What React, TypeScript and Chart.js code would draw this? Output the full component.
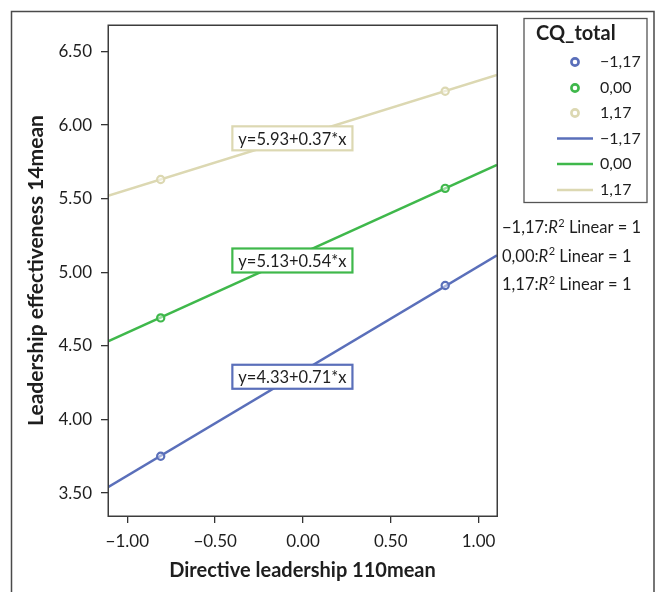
import React, { useEffect, useRef } from "react";
import { Chart, registerables } from "chart.js";
Chart.register(...registerables);

// ---- data ----
const groups = ["−1,17", "0,00", "1,17"];
const colors = ["#5a6fba", "#3fb84b", "#dcd8b2"];
const pointX = [-0.81, 0.81];
const bluePoints = [3.75, 4.91];
const greenPoints = [4.69, 5.57];
const beigePoints = [5.63, 6.23];
const lineX = [-1.11, 1.105];
const blueLine = [3.54, 5.115];
const greenLine = [4.53, 5.73];
const beigeLine = [5.52, 6.34];
const equations = ["y=4.33+0.71*x", "y=5.13+0.54*x", "y=5.93+0.37*x"];
const equationX = [-0.06, -0.06, -0.06];
const equationY = [4.29, 5.08, 5.91];
const xTicks = [-1, -0.5, 0, 0.5, 1];
const xTickLabels = ["−1.00", "−0.50", "0.00", "0.50", "1.00"];
const yTicks = [3.5, 4, 4.5, 5, 5.5, 6, 6.5];
const yTickLabels = ["3.50", "4.00", "4.50", "5.00", "5.50", "6.00", "6.50"];
const xTitle = "Directive leadership 110mean";
const yTitle = "Leadership effectiveness 14mean";
const legendTitle = "CQ_total";
const r2Suffix = " Linear = 1";

const FONT = "Lato";
const TEXT = "#1e1e1e";

const pointSeries = [bluePoints, greenPoints, beigePoints];
const lineSeries = [blueLine, greenLine, beigeLine];

const decor = {
  id: "decor",
  beforeDraw(chart: any) {
    const c = chart.ctx;
    c.save();
    c.fillStyle = "#fff";
    c.fillRect(0, 0, chart.width, chart.height);
    c.restore();
  },
  afterDatasetsDraw(chart: any) {
    const c = chart.ctx;
    const { left, top, right, bottom } = chart.chartArea;
    const xs = chart.scales.x;
    const ys = chart.scales.y;
    c.save();
    // equation boxes
    c.font = `16.5px ${FONT}`;
    c.textAlign = "center";
    c.textBaseline = "middle";
    equations.forEach((t, i) => {
      const cx = xs.getPixelForValue(equationX[i]);
      const cy = ys.getPixelForValue(equationY[i]);
      const w = c.measureText(t).width + 12;
      const h = 24;
      c.fillStyle = "#fff";
      c.fillRect(cx - w / 2, cy - h / 2, w, h);
      c.strokeStyle = colors[i];
      c.lineWidth = 2.2;
      c.strokeRect(cx - w / 2, cy - h / 2, w, h);
      c.fillStyle = TEXT;
      c.fillText(t, cx, cy + 1);
    });
    // plot frame
    c.strokeStyle = "#3c3c3c";
    c.lineWidth = 1.5;
    c.strokeRect(Math.round(left) + 0.25, Math.round(top) + 0.25, Math.round(right - left), Math.round(bottom - top));
    c.restore();
  },
  afterDraw(chart: any) {
    const c = chart.ctx;
    c.save();
    // outer frame
    c.strokeStyle = "#4a4a4a";
    c.lineWidth = 1.5;
    c.beginPath();
    c.moveTo(11.5, 600);
    c.lineTo(11.5, 11.5);
    c.lineTo(654, 11.5);
    c.lineTo(654, 600);
    c.stroke();
    // legend box
    c.strokeStyle = "#555";
    c.lineWidth = 1.3;
    c.strokeRect(524, 18.5, 123, 184);
    c.fillStyle = TEXT;
    c.font = `bold 20px ${FONT}`;
    c.textAlign = "left";
    c.textBaseline = "middle";
    c.fillText(legendTitle, 536, 34);
    c.font = `16px ${FONT}`;
    const py = [62, 88, 113];
    const ly = [138.5, 164, 190];
    groups.forEach((g, i) => {
      c.beginPath();
      c.arc(575, py[i], 3.6, 0, Math.PI * 2);
      c.strokeStyle = colors[i];
      c.lineWidth = 2.6;
      c.stroke();
      c.fillStyle = TEXT;
      c.fillText(g, 600, py[i]);
      c.beginPath();
      c.moveTo(557, ly[i]);
      c.lineTo(593, ly[i]);
      c.strokeStyle = colors[i];
      c.lineWidth = 2.5;
      c.stroke();
      c.fillStyle = TEXT;
      c.fillText(g, 600, ly[i]);
    });
    // R² notes
    const ry = [228, 256.5, 285];
    groups.forEach((g, i) => {
      let x = 502;
      c.font = `16.5px ${FONT}`;
      c.fillStyle = TEXT;
      const a = g + ":";
      c.fillText(a, x, ry[i]);
      x += c.measureText(a).width;
      c.font = `italic 16.5px ${FONT}`;
      c.fillText("R", x, ry[i]);
      x += c.measureText("R").width;
      c.font = `11px ${FONT}`;
      c.fillText("2", x + 0.5, ry[i] - 5);
      x += c.measureText("2").width + 0.5;
      c.font = `16.5px ${FONT}`;
      c.fillText(r2Suffix, x, ry[i]);
    });
    c.restore();
  },
};

export default function App() {
  const ref = useRef<HTMLCanvasElement>(null);
  useEffect(() => {
    document.body.style.margin = "0";
    const datasets: any[] = [];
    pointSeries.forEach((s, i) => {
      datasets.push({
        label: groups[i],
        data: pointX.map((x, j) => ({ x, y: s[j] })),
        showLine: false,
        pointRadius: 3.6,
        pointBorderWidth: 2.2,
        pointBorderColor: colors[i],
        pointBackgroundColor: "rgba(255,255,255,0.5)",
        order: 0,
      });
    });
    lineSeries.forEach((s, i) => {
      datasets.push({
        label: groups[i],
        data: lineX.map((x, j) => ({ x, y: s[j] })),
        showLine: true,
        borderColor: colors[i],
        borderWidth: 2.5,
        pointRadius: 0,
        order: 1,
      });
    });
    const chart = new Chart(ref.current as HTMLCanvasElement, {
      type: "scatter",
      data: { datasets },
      options: {
        animation: false,
        responsive: false,
        devicePixelRatio: 1,
        layout: { padding: { top: 25, right: 163, left: 0, bottom: 0 } },
        plugins: { legend: { display: false }, tooltip: { enabled: false } },
        scales: {
          x: {
            type: "linear",
            min: -1.11,
            max: 1.105,
            afterBuildTicks: (s: any) => {
              s.ticks = xTicks.map((v) => ({ value: v }));
            },
            afterFit: (s: any) => {
              s.height = 76;
            },
            ticks: {
              callback: (v: any) => xTickLabels[xTicks.indexOf(Number(v))],
              font: { family: FONT, size: 17 },
              color: TEXT,
              padding: 8,
              maxRotation: 0,
              autoSkip: false,
            },
            grid: { drawOnChartArea: false, drawTicks: true, tickLength: 7, color: "#333", lineWidth: 1.3 },
            border: { display: false },
            title: {
              display: true,
              text: xTitle,
              font: { family: FONT, size: 20, weight: "bold" },
              color: TEXT,
              padding: { top: 0, bottom: 9 },
            },
          },
          y: {
            type: "linear",
            min: 3.344,
            max: 6.68,
            afterBuildTicks: (s: any) => {
              s.ticks = yTicks.map((v) => ({ value: v }));
            },
            afterFit: (s: any) => {
              s.width = 108;
            },
            ticks: {
              callback: (v: any) => yTickLabels[yTicks.indexOf(Number(v))],
              font: { family: FONT, size: 17 },
              color: TEXT,
              padding: 9,
              autoSkip: false,
            },
            grid: { drawOnChartArea: false, drawTicks: true, tickLength: 7, color: "#333", lineWidth: 1.3 },
            border: { display: false },
            title: {
              display: true,
              text: yTitle,
              font: { family: FONT, size: 21, weight: "bold" },
              color: TEXT,
              padding: { top: 24, bottom: 0 },
            },
          },
        },
      },
      plugins: [decor],
    } as any);
    return () => chart.destroy();
  }, []);
  return (
    <div style={{ width: 660, height: 592 }}>
      <canvas ref={ref} width={660} height={592} style={{ display: "block" }} />
    </div>
  );
}
